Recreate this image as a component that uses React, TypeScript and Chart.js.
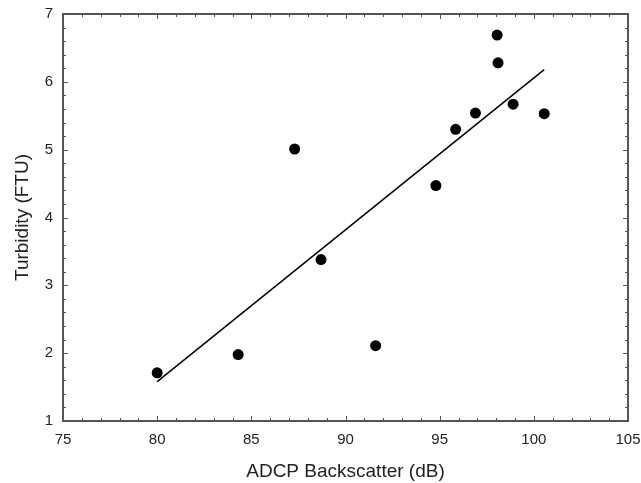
import React, { useEffect, useRef } from 'react';
import { Chart, registerables } from 'chart.js';
Chart.register(...registerables);

const backscatterDb = [80.0, 84.3, 87.3, 88.7, 91.6, 94.8, 95.85, 96.9, 98.05, 98.1, 98.9, 100.55];
const turbidityFtu = [1.71, 1.98, 5.01, 3.38, 2.11, 4.47, 5.3, 5.54, 6.69, 6.28, 5.67, 5.53];
const fitX = [80.0, 100.55];
const fitY = [1.58, 6.18];
const xMin = 75, xMax = 105, xStep = 5, xMinorStep = 1;
const yMin = 1, yMax = 7, yStep = 1, yMinorStep = 0.2;
const xTitle = 'ADCP Backscatter (dB)';
const yTitle = 'Turbidity (FTU)';

const FONT = "'Liberation Sans', Arial, Helvetica, sans-serif";
const FRAME = '#555555';

const framePlugin = {
  id: 'frameTicks',
  afterDraw(chart: any) {
    const { ctx, chartArea: a, scales } = chart;
    const xs = scales.x, ys = scales.y;
    ctx.save();
    ctx.strokeStyle = FRAME;
    ctx.lineWidth = 1;
    const nx = Math.round((xMax - xMin) / xMinorStep);
    for (let i = 0; i <= nx; i++) {
      const v = xMin + i * xMinorStep;
      const major = Math.abs(v / xStep - Math.round(v / xStep)) < 1e-6;
      const len = major ? 5 : 3;
      const px = Math.round(xs.getPixelForValue(v)) + 0.5;
      ctx.beginPath();
      ctx.moveTo(px, a.bottom); ctx.lineTo(px, a.bottom - len);
      ctx.moveTo(px, a.top); ctx.lineTo(px, a.top + len);
      ctx.stroke();
    }
    const ny = Math.round((yMax - yMin) / yMinorStep);
    for (let i = 0; i <= ny; i++) {
      const v = yMin + i * yMinorStep;
      const major = Math.abs(v / yStep - Math.round(v / yStep)) < 1e-6;
      const len = major ? 5 : 3;
      const py = Math.round(ys.getPixelForValue(v)) + 0.5;
      ctx.beginPath();
      ctx.moveTo(a.left, py); ctx.lineTo(a.left + len, py);
      ctx.moveTo(a.right, py); ctx.lineTo(a.right - len, py);
      ctx.stroke();
    }
    ctx.lineWidth = 2;
    ctx.strokeRect(a.left, a.top, a.right - a.left, a.bottom - a.top);
    ctx.restore();
  },
};

export default function App() {
  const ref = useRef<HTMLCanvasElement | null>(null);
  useEffect(() => {
    if (!ref.current) return;
    const chart = new Chart(ref.current, {
      type: 'scatter',
      data: {
        datasets: [
          {
            type: 'scatter',
            data: backscatterDb.map((x, i) => ({ x, y: turbidityFtu[i] })),
            backgroundColor: '#000',
            borderColor: '#000',
            pointRadius: 5.5,
            pointBorderWidth: 0,
          },
          {
            type: 'line',
            data: fitX.map((x, i) => ({ x, y: fitY[i] })),
            borderColor: '#000',
            borderWidth: 1.5,
            pointRadius: 0,
            fill: false,
          },
        ],
      } as any,
      options: {
        animation: false,
        responsive: false,
        events: [],
        layout: { padding: { top: 14, right: 13, left: 0, bottom: 0 } },
        plugins: { legend: { display: false }, tooltip: { enabled: false } },
        scales: {
          x: {
            type: 'linear',
            min: xMin,
            max: xMax,
            grid: { display: false, drawTicks: false },
            border: { display: false },
            ticks: {
              stepSize: xStep,
              autoSkip: false,
              maxRotation: 0,
              padding: 10,
              color: '#222',
              font: { family: FONT, size: 15 },
            },
            title: {
              display: true,
              text: xTitle,
              color: '#222',
              font: { family: FONT, size: 19 },
              padding: { top: 0, bottom: 0 },
            },
            afterFit: (s: any) => { s.height = 62; s.paddingLeft = 0; s.paddingRight = 0; },
          },
          y: {
            type: 'linear',
            min: yMin,
            max: yMax,
            grid: { display: false, drawTicks: false },
            border: { display: false },
            ticks: {
              stepSize: yStep,
              padding: 10,
              color: '#222',
              font: { family: FONT, size: 15 },
            },
            title: {
              display: true,
              text: yTitle,
              color: '#222',
              font: { family: FONT, size: 19 },
              padding: { top: 11, bottom: 0 },
            },
            afterFit: (s: any) => { s.width = 63; s.paddingTop = 0; s.paddingBottom = 0; },
          },
        },
      } as any,
      plugins: [framePlugin],
    });
    return () => chart.destroy();
  }, []);
  return (
    <div style={{ position: 'fixed', left: 0, top: 0, width: 641, height: 483, background: '#fff' }}>
      <canvas ref={ref} width={641} height={483} />
    </div>
  );
}
